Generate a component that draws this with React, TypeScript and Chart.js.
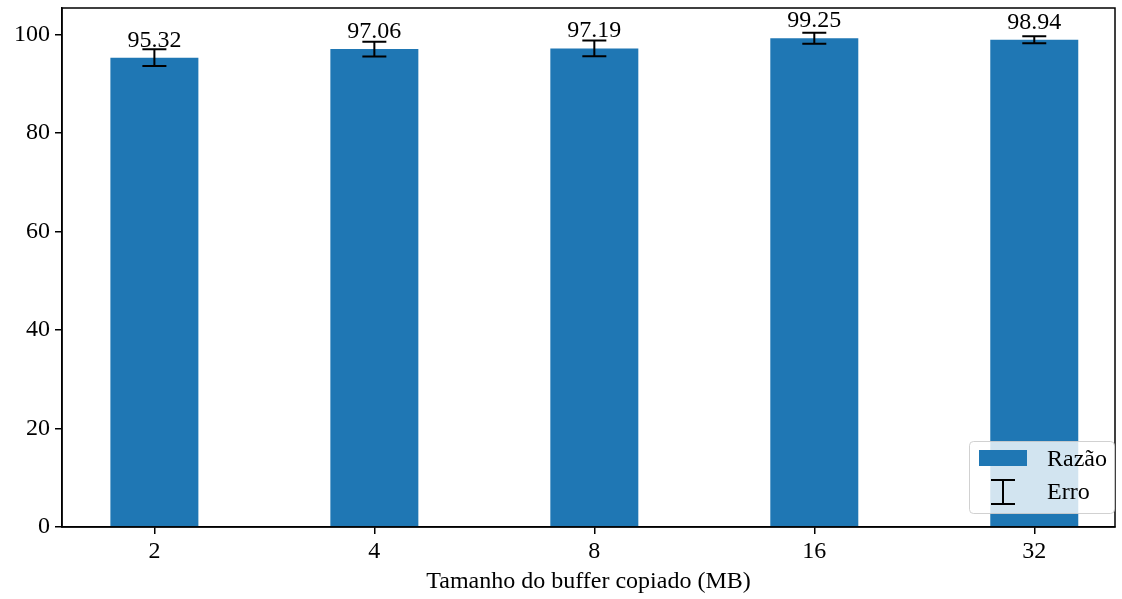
import React, { useEffect, useRef } from "react";
import { Chart, registerables } from "chart.js";

Chart.register(...registerables);

const categories = ["2", "4", "8", "16", "32"];
const ratioValues = [95.32, 97.06, 97.19, 99.25, 98.94];
const errorValues = [1.7, 1.5, 1.6, 1.1, 0.7];
const yTicks = [0, 20, 40, 60, 80, 100];
const xTitle = "Tamanho do buffer copiado (MB)";
const legendLabels = ["Razão", "Erro"];

const FONT = '"Liberation Serif", "Times New Roman", serif';
const BLUE = "#1f77b4";
const FS = 24;

const overlayPlugin = {
  id: "overlay",
  afterDraw(chart: any) {
    const ctx = chart.ctx as CanvasRenderingContext2D;
    const xs = chart.scales.x;
    const ys = chart.scales.y;
    const area = chart.chartArea;
    ctx.save();
    // error bars
    ctx.strokeStyle = "#000";
    ctx.lineWidth = 2;
    ratioValues.forEach((v, i) => {
      const x = xs.getPixelForValue(i);
      const yTop = ys.getPixelForValue(v + errorValues[i]);
      const yBot = ys.getPixelForValue(v - errorValues[i]);
      ctx.beginPath();
      ctx.moveTo(x, yTop);
      ctx.lineTo(x, yBot);
      ctx.moveTo(x - 12, yTop);
      ctx.lineTo(x + 12, yTop);
      ctx.moveTo(x - 12, yBot);
      ctx.lineTo(x + 12, yBot);
      ctx.stroke();
    });
    // value labels
    ctx.fillStyle = "#000";
    ctx.font = `${FS}px ${FONT}`;
    ctx.textAlign = "center";
    ctx.textBaseline = "alphabetic";
    ratioValues.forEach((v, i) => {
      const x = xs.getPixelForValue(i);
      const y = ys.getPixelForValue(v);
      ctx.fillText(v.toFixed(2), x, y - 11);
    });
    // frame
    ctx.lineWidth = 1.5;
    ctx.strokeStyle = "#000";
    ctx.strokeRect(area.left, area.top, area.right - area.left, area.bottom - area.top);
    // legend
    const lx = 969.5, ly = 441.5, lw = 145, lh = 72;
    ctx.beginPath();
    (ctx as any).roundRect(lx, ly, lw, lh, 4);
    ctx.fillStyle = "rgba(255,255,255,0.8)";
    ctx.fill();
    ctx.lineWidth = 1;
    ctx.strokeStyle = "rgba(204,204,204,0.9)";
    ctx.stroke();
    ctx.fillStyle = BLUE;
    ctx.fillRect(979, 450, 48, 16);
    ctx.strokeStyle = "#000";
    ctx.lineWidth = 2;
    ctx.beginPath();
    ctx.moveTo(1003, 480);
    ctx.lineTo(1003, 504);
    ctx.moveTo(991, 480);
    ctx.lineTo(1015, 480);
    ctx.moveTo(991, 504);
    ctx.lineTo(1015, 504);
    ctx.stroke();
    ctx.fillStyle = "#000";
    ctx.textAlign = "left";
    ctx.textBaseline = "middle";
    ctx.fillText(legendLabels[0], 1047, 460);
    ctx.fillText(legendLabels[1], 1047, 493);
    ctx.restore();
  },
};

export default function App() {
  const ref = useRef<HTMLCanvasElement>(null);
  useEffect(() => {
    if (!ref.current) return;
    const chart = new Chart(ref.current, {
      type: "bar",
      data: {
        datasets: [
          {
            label: legendLabels[0],
            data: ratioValues.map((v, i) => ({ x: i, y: v })),
            backgroundColor: BLUE,
            borderWidth: 0,
            barPercentage: 0.4,
            categoryPercentage: 1.0,
          },
        ],
      },
      options: {
        responsive: false,
        animation: false,
        layout: { padding: { top: 8, right: 7, left: 0, bottom: 0 } },
        plugins: { legend: { display: false }, tooltip: { enabled: false } },
        scales: {
          x: {
            type: "linear",
            min: -0.42,
            max: 4.367,
            offset: false,
            afterBuildTicks: (scale: any) => {
              scale.ticks = categories.map((_, i) => ({ value: i }));
            },
            afterFit: (scale: any) => {
              scale.height = 72;
              scale.paddingLeft = 0;
              scale.paddingRight = 0;
            },
            grid: {
              display: true,
              offset: false,
              drawOnChartArea: false,
              drawTicks: true,
              tickLength: 7,
              color: "#000",
              lineWidth: 1.5,
            },
            border: { display: true, color: "#000", width: 1.5 },
            ticks: {
              color: "#000",
              font: { family: FONT, size: FS },
              padding: 3,
              maxRotation: 0,
              autoSkip: false,
              callback: (v: any) => categories[Math.round(Number(v))] ?? "",
            },
            title: {
              display: true,
              text: xTitle,
              color: "#000",
              font: { family: FONT, size: FS },
              padding: { top: 0, bottom: 3 },
            },
          },
          y: {
            type: "linear",
            min: 0,
            max: 105.4,
            afterBuildTicks: (scale: any) => {
              scale.ticks = yTicks.map((v) => ({ value: v }));
            },
            afterFit: (scale: any) => {
              scale.width = 62;
              scale.paddingTop = 0;
              scale.paddingBottom = 0;
            },
            grid: {
              display: true,
              drawOnChartArea: false,
              drawTicks: true,
              tickLength: 7,
              color: "#000",
              lineWidth: 1.5,
            },
            border: { display: true, color: "#000", width: 1.5 },
            ticks: {
              color: "#000",
              font: { family: FONT, size: FS },
              padding: 5,
              callback: (v: any) => String(v),
            },
          },
        },
      },
      plugins: [overlayPlugin],
    });
    return () => chart.destroy();
  }, []);
  return (
    <canvas
      ref={ref}
      width={1122}
      height={599}
      style={{ position: "absolute", left: 0, top: 0, display: "block" }}
    />
  );
}
